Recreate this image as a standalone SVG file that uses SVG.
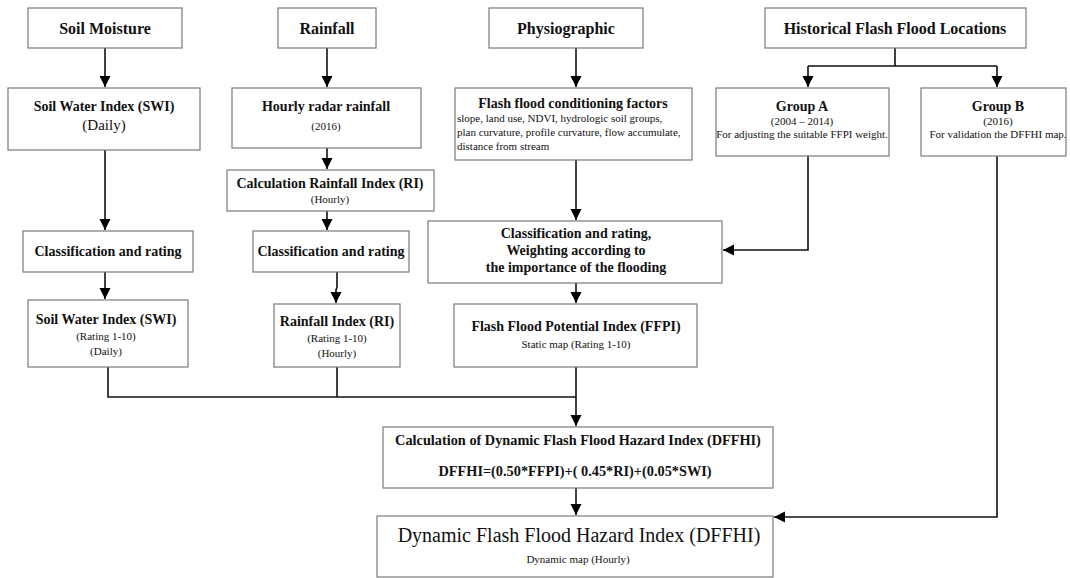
<svg xmlns="http://www.w3.org/2000/svg" width="1070" height="578" viewBox="0 0 1070 578" font-family="'Liberation Serif', 'Times New Roman', serif">
<defs>
<marker id="ah" markerUnits="userSpaceOnUse" markerWidth="12" markerHeight="12" viewBox="0 0 12 12" refX="11" refY="6" orient="auto">
<path d="M0,0.5 L11,6 L0,11.5 Z" fill="#000"/>
</marker>
<style>
.box{fill:#fff;stroke:#7a7a7a;stroke-width:1.2}
.t{font-family:"Liberation Serif","Times New Roman",serif;fill:#111;text-anchor:middle}
.b{font-weight:bold}
.h{font-size:16px}
.m{font-size:14px}
.s{font-size:11px}
.c{fill:none;stroke:#111;stroke-width:1.6}
</style>
</defs>
<rect width="1070" height="578" fill="#fff"/>

<g id="connectors">
<path class="c" d="M105,48 V87" marker-end="url(#ah)"/>
<path class="c" d="M327,48 V87" marker-end="url(#ah)"/>
<path class="c" d="M576,48 V87" marker-end="url(#ah)"/>
<path class="c" d="M895,48 V66 M808,66 H997"/>
<path class="c" d="M808,66 V87" marker-end="url(#ah)"/>
<path class="c" d="M997,66 V87" marker-end="url(#ah)"/>
<path class="c" d="M105,150 V230" marker-end="url(#ah)"/>
<path class="c" d="M327,148 V169" marker-end="url(#ah)"/>
<path class="c" d="M327,211 V230" marker-end="url(#ah)"/>
<path class="c" d="M105,272 V299" marker-end="url(#ah)"/>
<path class="c" d="M337,272 V287 L336,290 V303" marker-end="url(#ah)"/>
<path class="c" d="M576,160 V220" marker-end="url(#ah)"/>
<path class="c" d="M808,156 V250 H723" marker-end="url(#ah)"/>
<path class="c" d="M576,283 V303" marker-end="url(#ah)"/>
<path class="c" d="M108,367 V397 H576 M337,367 V397"/>
<path class="c" d="M576,367 V426" marker-end="url(#ah)"/>
<path class="c" d="M576,488 V515" marker-end="url(#ah)"/>
<path class="c" d="M997,156 V517 H774" marker-end="url(#ah)"/>
</g>

<g id="soil-moisture">
<rect class="box" x="28" y="8" width="154" height="40"/>
<text class="t b h" x="105" y="34">Soil Moisture</text>
</g>
<g id="rainfall">
<rect class="box" x="278" y="8" width="98" height="40"/>
<text class="t b h" x="327" y="34">Rainfall</text>
</g>
<g id="physiographic">
<rect class="box" x="489" y="8" width="154" height="40"/>
<text class="t b h" x="566" y="34">Physiographic</text>
</g>
<g id="historical">
<rect class="box" x="765" y="8" width="261" height="40"/>
<text class="t b h" x="895" y="34">Historical Flash Flood Locations</text>
</g>

<g id="swi-daily">
<rect class="box" x="8" y="88" width="192" height="62"/>
<text class="t b m" x="104" y="111">Soil Water Index (SWI)</text>
<text class="t m" x="104" y="130" style="font-size:15px">(Daily)</text>
</g>
<g id="hourly-radar">
<rect class="box" x="232" y="88" width="189" height="60"/>
<text class="t b m" x="326" y="111">Hourly radar rainfall</text>
<text class="t s" x="326" y="130">(2016)</text>
</g>
<g id="calc-ri">
<rect class="box" x="227" y="170" width="207" height="41"/>
<text class="t b m" x="330" y="188">Calculation Rainfall Index (RI)</text>
<text class="t s" x="330" y="203">(Hourly)</text>
</g>
<g id="ffcf">
<rect class="box" x="455" y="88" width="237" height="72"/>
<text class="t b m" x="573" y="108">Flash flood conditioning factors</text>
<text class="t s" x="457" y="122" style="text-anchor:start">slope, land use, NDVI, hydrologic soil groups,</text>
<text class="t s" x="457" y="136" style="text-anchor:start">plan curvature, profile curvature, flow accumulate,</text>
<text class="t s" x="457" y="150" style="text-anchor:start">distance from stream</text>
</g>
<g id="group-a">
<rect class="box" x="716" y="88" width="173" height="68"/>
<text class="t b m" x="802" y="111">Group A</text>
<text class="t s" x="802" y="125">(2004 – 2014)</text>
<text class="t s" x="802" y="138">For adjusting the suitable FFPI weight.</text>
</g>
<g id="group-b">
<rect class="box" x="921" y="88" width="145" height="68"/>
<text class="t b m" x="998" y="111">Group B</text>
<text class="t s" x="998" y="125">(2016)</text>
<text class="t s" x="998" y="138">For validation the  DFFHI map.</text>
</g>

<g id="class-soil">
<rect class="box" x="23" y="231" width="170" height="41"/>
<text class="t b m" x="108" y="256">Classification and rating</text>
</g>
<g id="class-rain">
<rect class="box" x="253" y="231" width="156" height="41"/>
<text class="t b m" x="331" y="256">Classification and rating</text>
</g>
<g id="class-weight">
<rect class="box" x="428" y="221" width="294" height="62"/>
<text class="t b m" x="576" y="238">Classification and rating,</text>
<text class="t b m" x="576" y="255">Weighting according to</text>
<text class="t b m" x="576" y="272">the importance of the flooding</text>
</g>

<g id="swi-rating">
<rect class="box" x="28" y="300" width="160" height="67"/>
<text class="t b m" x="106" y="324">Soil Water Index (SWI)</text>
<text class="t s" x="106" y="340">(Rating 1-10)</text>
<text class="t s" x="106" y="355">(Daily)</text>
</g>
<g id="ri-rating">
<rect class="box" x="274" y="304" width="126" height="63"/>
<text class="t b m" x="337" y="326">Rainfall Index (RI)</text>
<text class="t s" x="337" y="342">(Rating 1-10)</text>
<text class="t s" x="337" y="357">(Hourly)</text>
</g>
<g id="ffpi">
<rect class="box" x="454" y="304" width="243" height="63"/>
<text class="t b m" x="576" y="331">Flash Flood Potential Index (FFPI)</text>
<text class="t s" x="576" y="348">Static map  (Rating 1-10)</text>
</g>

<g id="calc-dffhi">
<rect class="box" x="383" y="427" width="390" height="61"/>
<text class="t b" x="578" y="445" style="font-size:14.3px">Calculation of Dynamic Flash Flood Hazard Index (DFFHI)</text>
<text class="t b" x="575" y="476" style="font-size:14.3px">DFFHI=(0.50*FFPI)+( 0.45*RI)+(0.05*SWI)</text>
</g>
<g id="dffhi">
<rect class="box" x="377" y="516" width="396" height="61"/>
<text class="t" x="579" y="542" style="font-size:20px">Dynamic Flash Flood Hazard Index (DFFHI)</text>
<text class="t s" x="578" y="563">Dynamic map (Hourly)</text>
</g>
</svg>
